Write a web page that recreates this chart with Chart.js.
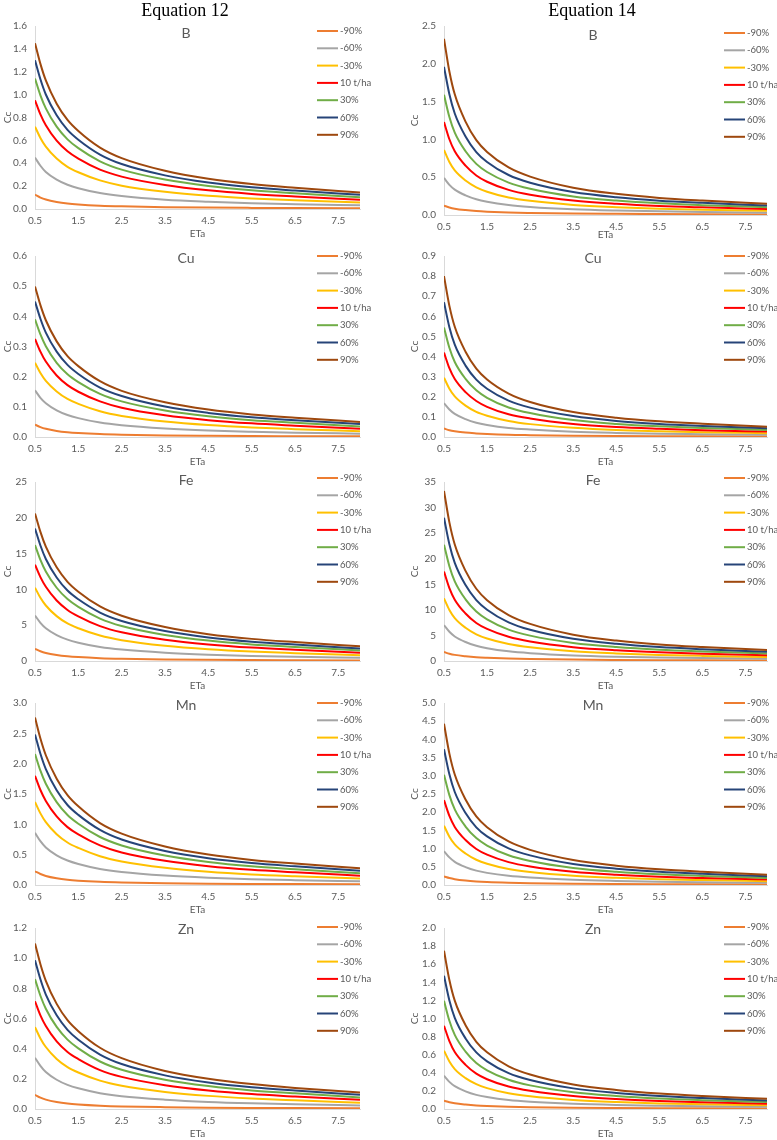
<!DOCTYPE html>
<html>
<head>
<meta charset="utf-8">
<script src="https://cdn.jsdelivr.net/npm/chart.js@4.4.1/dist/chart.umd.min.js"></script>
<style>
    body { margin: 0; width: 777px; height: 1140px; position: relative; background: #fff; overflow: hidden; }
    canvas { position: absolute; background: #fff; }
    .eq { position: absolute; top: 0; width: 200px; text-align: center; z-index: 5;
          font-family: "Liberation Serif", "Times New Roman", serif; font-size: 18px; line-height: 20px; color: #000; }
</style>
</head>
<body>
<div class="eq" style="left:85px">Equation 12</div>
<div class="eq" style="left:492px">Equation 14</div>
<script>
const etaValues = [0.5, 0.625, 0.75, 1, 1.25, 1.5, 2, 2.5, 3.5, 4.5, 5.5, 6.5, 8];
const etaTicks = [0.5, 1.5, 2.5, 3.5, 4.5, 5.5, 6.5, 7.5];
const seriesLabels = ['-90%', '-60%', '-30%', '10 t/ha', '30%', '60%', '90%'];
const seriesColors = ['#ED7D31', '#A5A5A5', '#FFC000', '#FF0000', '#70AD47', '#264478', '#9E480E'];

// Equation 12 - Cc per series (-90% ... 90%)
const ccB12 = [
    [0.125, 0.100, 0.0825, 0.0613, 0.0481, 0.040, 0.0294, 0.0231, 0.016, 0.0121, 0.0098, 0.0081, 0.0063],
    [0.45, 0.378, 0.324, 0.257, 0.212, 0.181, 0.139, 0.113, 0.081, 0.063, 0.050, 0.042, 0.032],
    [0.72, 0.621, 0.545, 0.441, 0.369, 0.321, 0.250, 0.204, 0.150, 0.115, 0.092, 0.076, 0.056],
    [0.95, 0.827, 0.732, 0.597, 0.504, 0.440, 0.344, 0.283, 0.210, 0.163, 0.132, 0.110, 0.081],
    [1.14, 0.994, 0.880, 0.720, 0.609, 0.532, 0.417, 0.344, 0.257, 0.201, 0.163, 0.138, 0.103],
    [1.30, 1.134, 1.001, 0.819, 0.692, 0.606, 0.476, 0.393, 0.294, 0.231, 0.190, 0.161, 0.124],
    [1.45, 1.269, 1.124, 0.921, 0.779, 0.682, 0.537, 0.445, 0.334, 0.264, 0.218, 0.186, 0.145]
];
const ccCu12 = [
    [0.041, 0.0328, 0.0271, 0.0201, 0.0158, 0.0131, 0.0096, 0.0076, 0.0052, 0.004, 0.0032, 0.0027, 0.0021],
    [0.155, 0.130, 0.112, 0.0884, 0.0729, 0.0625, 0.0477, 0.0388, 0.0281, 0.0215, 0.0174, 0.0144, 0.011],
    [0.246, 0.212, 0.186, 0.151, 0.126, 0.110, 0.0854, 0.0699, 0.0512, 0.0394, 0.0315, 0.0261, 0.0192],
    [0.325, 0.283, 0.250, 0.204, 0.172, 0.150, 0.118, 0.0969, 0.0718, 0.0559, 0.0452, 0.0377, 0.0276],
    [0.39, 0.340, 0.301, 0.246, 0.208, 0.182, 0.143, 0.118, 0.0878, 0.0686, 0.0558, 0.0472, 0.0351],
    [0.449, 0.392, 0.346, 0.283, 0.239, 0.209, 0.164, 0.136, 0.101, 0.0799, 0.0656, 0.0557, 0.0427],
    [0.499, 0.437, 0.387, 0.317, 0.268, 0.235, 0.185, 0.153, 0.115, 0.0908, 0.0749, 0.0639, 0.0499]
];
const ccFe12 = [
    [1.70, 1.36, 1.12, 0.833, 0.655, 0.544, 0.40, 0.315, 0.218, 0.165, 0.133, 0.111, 0.085],
    [6.35, 5.33, 4.57, 3.62, 2.98, 2.56, 1.96, 1.59, 1.15, 0.883, 0.711, 0.591, 0.451],
    [10.24, 8.83, 7.75, 6.27, 5.24, 4.57, 3.55, 2.91, 2.13, 1.64, 1.31, 1.09, 0.80],
    [13.46, 11.71, 10.36, 8.45, 7.13, 6.23, 4.87, 4.01, 2.97, 2.32, 1.87, 1.56, 1.14],
    [16.19, 14.12, 12.50, 10.23, 8.65, 7.56, 5.93, 4.89, 3.64, 2.85, 2.32, 1.96, 1.46],
    [18.5, 16.13, 14.25, 11.66, 9.84, 8.62, 6.77, 5.59, 4.18, 3.29, 2.70, 2.29, 1.76],
    [20.6, 18.03, 15.97, 13.08, 11.06, 9.68, 7.62, 6.32, 4.74, 3.75, 3.09, 2.64, 2.06]
];
const ccMn12 = [
    [0.226, 0.181, 0.149, 0.111, 0.087, 0.072, 0.053, 0.042, 0.029, 0.022, 0.018, 0.015, 0.011],
    [0.86, 0.722, 0.619, 0.490, 0.404, 0.347, 0.265, 0.215, 0.156, 0.120, 0.096, 0.080, 0.061],
    [1.37, 1.181, 1.037, 0.838, 0.701, 0.611, 0.475, 0.389, 0.285, 0.219, 0.175, 0.145, 0.107],
    [1.80, 1.566, 1.386, 1.130, 0.954, 0.833, 0.652, 0.536, 0.398, 0.310, 0.250, 0.209, 0.153],
    [2.16, 1.884, 1.668, 1.365, 1.153, 1.009, 0.791, 0.652, 0.486, 0.380, 0.309, 0.261, 0.194],
    [2.48, 2.163, 1.910, 1.562, 1.319, 1.156, 0.908, 0.749, 0.560, 0.441, 0.362, 0.308, 0.236],
    [2.76, 2.415, 2.139, 1.753, 1.482, 1.297, 1.021, 0.847, 0.635, 0.502, 0.414, 0.353, 0.276]
];
const ccZn12 = [
    [0.094, 0.075, 0.062, 0.046, 0.036, 0.030, 0.022, 0.017, 0.012, 0.009, 0.0073, 0.0061, 0.0047],
    [0.34, 0.286, 0.245, 0.194, 0.160, 0.137, 0.105, 0.085, 0.062, 0.047, 0.038, 0.032, 0.024],
    [0.543, 0.468, 0.411, 0.332, 0.278, 0.242, 0.188, 0.154, 0.113, 0.087, 0.070, 0.058, 0.042],
    [0.714, 0.621, 0.550, 0.448, 0.378, 0.331, 0.258, 0.213, 0.158, 0.123, 0.099, 0.083, 0.061],
    [0.861, 0.751, 0.665, 0.544, 0.460, 0.402, 0.315, 0.260, 0.194, 0.152, 0.123, 0.104, 0.077],
    [0.986, 0.860, 0.759, 0.621, 0.525, 0.459, 0.361, 0.298, 0.223, 0.176, 0.144, 0.122, 0.094],
    [1.097, 0.960, 0.850, 0.697, 0.589, 0.516, 0.406, 0.337, 0.252, 0.200, 0.165, 0.140, 0.110]
];

// Equation 14 - Cc per series (-90% ... 90%)
const ccB14 = [
    [0.123, 0.100, 0.084, 0.065, 0.052, 0.044, 0.033, 0.027, 0.019, 0.015, 0.012, 0.010, 0.0079],
    [0.49, 0.399, 0.336, 0.260, 0.208, 0.175, 0.132, 0.107, 0.076, 0.059, 0.048, 0.040, 0.031],
    [0.86, 0.701, 0.589, 0.456, 0.366, 0.308, 0.232, 0.187, 0.133, 0.103, 0.083, 0.071, 0.055],
    [1.23, 1.002, 0.843, 0.652, 0.523, 0.440, 0.332, 0.268, 0.191, 0.148, 0.119, 0.101, 0.079],
    [1.59, 1.296, 1.089, 0.843, 0.676, 0.569, 0.429, 0.347, 0.246, 0.191, 0.154, 0.130, 0.102],
    [1.96, 1.597, 1.343, 1.039, 0.833, 0.702, 0.529, 0.427, 0.304, 0.235, 0.190, 0.161, 0.125],
    [2.33, 1.899, 1.596, 1.235, 0.990, 0.834, 0.629, 0.508, 0.361, 0.280, 0.226, 0.191, 0.149]
];
const ccCu14 = [
    [0.042, 0.034, 0.029, 0.022, 0.018, 0.015, 0.011, 0.0092, 0.0065, 0.005, 0.0041, 0.0034, 0.0027],
    [0.168, 0.137, 0.115, 0.089, 0.071, 0.060, 0.045, 0.037, 0.026, 0.020, 0.016, 0.014, 0.011],
    [0.295, 0.240, 0.202, 0.156, 0.125, 0.106, 0.080, 0.064, 0.046, 0.035, 0.029, 0.024, 0.019],
    [0.42, 0.342, 0.288, 0.223, 0.179, 0.150, 0.113, 0.092, 0.065, 0.050, 0.041, 0.034, 0.027],
    [0.545, 0.444, 0.373, 0.289, 0.232, 0.195, 0.147, 0.119, 0.084, 0.065, 0.053, 0.045, 0.035],
    [0.67, 0.546, 0.459, 0.355, 0.285, 0.240, 0.181, 0.146, 0.104, 0.080, 0.065, 0.055, 0.043],
    [0.80, 0.652, 0.548, 0.424, 0.340, 0.286, 0.216, 0.174, 0.124, 0.096, 0.078, 0.066, 0.051]
];
const ccFe14 = [
    [1.75, 1.43, 1.20, 0.93, 0.74, 0.63, 0.47, 0.38, 0.27, 0.21, 0.17, 0.14, 0.11],
    [7.0, 5.71, 4.80, 3.71, 2.98, 2.51, 1.89, 1.53, 1.09, 0.84, 0.68, 0.57, 0.45],
    [12.25, 9.98, 8.39, 6.49, 5.21, 4.39, 3.31, 2.67, 1.90, 1.47, 1.19, 1.00, 0.78],
    [17.5, 14.26, 11.99, 9.28, 7.44, 6.27, 4.73, 3.82, 2.71, 2.10, 1.70, 1.44, 1.12],
    [22.75, 18.54, 15.58, 12.06, 9.67, 8.14, 6.14, 4.96, 3.53, 2.73, 2.21, 1.87, 1.46],
    [28.0, 22.82, 19.18, 14.84, 11.90, 10.02, 7.56, 6.10, 4.34, 3.36, 2.72, 2.30, 1.79],
    [33.25, 27.10, 22.78, 17.62, 14.13, 11.90, 8.98, 7.25, 5.15, 3.99, 3.23, 2.73, 2.13]
];
const ccMn14 = [
    [0.233, 0.190, 0.160, 0.123, 0.099, 0.083, 0.063, 0.051, 0.036, 0.028, 0.023, 0.019, 0.015],
    [0.93, 0.758, 0.637, 0.493, 0.395, 0.333, 0.251, 0.203, 0.144, 0.112, 0.090, 0.076, 0.060],
    [1.63, 1.328, 1.117, 0.864, 0.693, 0.584, 0.440, 0.355, 0.253, 0.196, 0.158, 0.134, 0.104],
    [2.33, 1.899, 1.596, 1.235, 0.990, 0.834, 0.629, 0.508, 0.361, 0.280, 0.226, 0.191, 0.149],
    [3.03, 2.469, 2.076, 1.606, 1.288, 1.085, 0.818, 0.661, 0.470, 0.364, 0.294, 0.248, 0.194],
    [3.73, 3.040, 2.555, 1.977, 1.585, 1.335, 1.007, 0.813, 0.578, 0.448, 0.362, 0.306, 0.239],
    [4.43, 3.610, 3.035, 2.348, 1.883, 1.586, 1.196, 0.966, 0.687, 0.532, 0.430, 0.363, 0.284]
];
const ccZn14 = [
    [0.092, 0.075, 0.063, 0.049, 0.039, 0.033, 0.025, 0.020, 0.014, 0.011, 0.0089, 0.0075, 0.0059],
    [0.368, 0.300, 0.252, 0.195, 0.156, 0.132, 0.099, 0.080, 0.057, 0.044, 0.036, 0.030, 0.024],
    [0.644, 0.525, 0.441, 0.341, 0.274, 0.231, 0.174, 0.140, 0.100, 0.077, 0.062, 0.053, 0.041],
    [0.92, 0.750, 0.630, 0.488, 0.391, 0.329, 0.248, 0.201, 0.143, 0.110, 0.089, 0.075, 0.059],
    [1.196, 0.975, 0.819, 0.634, 0.508, 0.428, 0.323, 0.261, 0.185, 0.144, 0.116, 0.098, 0.077],
    [1.472, 1.200, 1.008, 0.780, 0.626, 0.527, 0.397, 0.321, 0.228, 0.177, 0.143, 0.121, 0.094],
    [1.748, 1.425, 1.197, 0.926, 0.743, 0.626, 0.472, 0.381, 0.271, 0.210, 0.170, 0.143, 0.112]
];

// column geometry (page px)
const columns = [
    { left: 0, width: 390, axisW: 35, plotRight: 360, legendX: 317, titleX: 186, ccPad: 2 },
    { left: 405, width: 372, axisW: 39, plotRight: 767, legendX: 724, titleX: 593, ccPad: 4 }
];

const panels = [
    { name: 'B',  data: ccB12,  max: 1.6, step: 0.2, dec: 1, col: 0, top: 0,   plotTop: 26,  plotBottom: 209,  legendTop: 31,  xAxisH: 31 },
    { name: 'Cu', data: ccCu12, max: 0.6, step: 0.1, dec: 1, col: 0, top: 242, plotTop: 250, plotBottom: 437,  legendTop: 256, xAxisH: 31 },
    { name: 'Fe', data: ccFe12, max: 25,  step: 5,   dec: 0, col: 0, top: 468, plotTop: 474, plotBottom: 661,  legendTop: 478, xAxisH: 31 },
    { name: 'Mn', data: ccMn12, max: 3.0, step: 0.5, dec: 1, col: 0, top: 689, plotTop: 699, plotBottom: 885,  legendTop: 703, xAxisH: 31 },
    { name: 'Zn', data: ccZn12, max: 1.2, step: 0.2, dec: 1, col: 0, top: 914, plotTop: 927, plotBottom: 1109, legendTop: 927, xAxisH: 31 },
    { name: 'B',  data: ccB14,  max: 2.5, step: 0.5, dec: 1, col: 1, top: 0,   plotTop: 26,  plotBottom: 215,  legendTop: 33,  xAxisH: 26 },
    { name: 'Cu', data: ccCu14, max: 0.9, step: 0.1, dec: 1, col: 1, top: 242, plotTop: 250, plotBottom: 437,  legendTop: 256, xAxisH: 31 },
    { name: 'Fe', data: ccFe14, max: 35,  step: 5,   dec: 0, col: 1, top: 468, plotTop: 474, plotBottom: 661,  legendTop: 478, xAxisH: 31 },
    { name: 'Mn', data: ccMn14, max: 5.0, step: 0.5, dec: 1, col: 1, top: 689, plotTop: 699, plotBottom: 885,  legendTop: 703, xAxisH: 31 },
    { name: 'Zn', data: ccZn14, max: 2.0, step: 0.2, dec: 1, col: 1, top: 914, plotTop: 927, plotBottom: 1109, legendTop: 927, xAxisH: 31 }
];

const textColor = '#595959';
const axisColor = '#D9D9D9';
const fontFamily = 'Lato, "Open Sans", sans-serif';

// Excel-style legend and element title drawn inside the plot
const panelDecor = {
    id: 'panelDecor',
    afterDraw(chart, args, opts) {
        const ctx = chart.ctx;
        ctx.save();
        ctx.fillStyle = textColor;
        ctx.textBaseline = 'middle';
        ctx.textAlign = 'center';
        ctx.font = '14px ' + fontFamily;
        ctx.fillText(opts.title, opts.titleX, opts.titleY);
        ctx.font = '9.5px ' + fontFamily;
        ctx.textAlign = 'left';
        chart.data.datasets.forEach((ds, i) => {
            const y = opts.legendY + i * 17.3;
            ctx.strokeStyle = ds.borderColor;
            ctx.lineWidth = 2;
            ctx.beginPath();
            ctx.moveTo(opts.legendX, y);
            ctx.lineTo(opts.legendX + 21, y);
            ctx.stroke();
            ctx.fillText(ds.label, opts.legendX + 23, y);
        });
        ctx.restore();
    }
};

panels.forEach(p => {
    const col = columns[p.col];
    const height = p.plotBottom + p.xAxisH - p.top;
    const canvas = document.createElement('canvas');
    canvas.width = col.width;
    canvas.height = height;
    canvas.style.left = col.left + 'px';
    canvas.style.top = p.top + 'px';
    document.body.appendChild(canvas);

    const datasets = p.data.map((values, i) => ({
        label: seriesLabels[i],
        data: etaValues.map((x, j) => ({ x: x, y: values[j] })),
        borderColor: seriesColors[i],
        borderWidth: 2,
        pointRadius: 0,
        fill: false,
        cubicInterpolationMode: 'monotone',
        order: seriesLabels.length - i
    }));

    new Chart(canvas.getContext('2d'), {
        type: 'line',
        data: { datasets: datasets },
        options: {
            responsive: false,
            animation: false,
            layout: { padding: { top: p.plotTop - p.top, right: col.width - (col.plotRight - col.left), bottom: 0, left: 0 } },
            plugins: {
                legend: { display: false },
                tooltip: { enabled: false },
                panelDecor: {
                    title: p.name,
                    titleX: col.titleX - col.left,
                    titleY: p.legendTop + 2 - p.top,
                    legendX: col.legendX - col.left,
                    legendY: p.legendTop - p.top
                }
            },
            scales: {
                x: {
                    type: 'linear',
                    min: 0.5,
                    max: 8,
                    afterBuildTicks: scale => { scale.ticks = etaTicks.map(v => ({ value: v })); },
                    afterFit: scale => { scale.height = p.xAxisH; },
                    grid: { display: false, drawTicks: false },
                    border: { display: true, color: axisColor, width: 1 },
                    ticks: {
                        autoSkip: false, maxRotation: 0, padding: 6,
                        color: textColor, font: { family: fontFamily, size: 10 },
                        callback: v => v.toFixed(1)
                    },
                    title: {
                        display: true, text: 'ETa', color: textColor,
                        font: { family: fontFamily, size: 10 }, padding: { top: 0, bottom: 0 }
                    }
                },
                y: {
                    min: 0,
                    max: p.max,
                    afterFit: scale => { scale.width = col.axisW; },
                    grid: { display: false, drawTicks: false },
                    border: { display: true, color: axisColor, width: 1 },
                    ticks: {
                        stepSize: p.step, padding: 8,
                        color: textColor, font: { family: fontFamily, size: 10 },
                        callback: v => v.toFixed(p.dec)
                    },
                    title: {
                        display: true, text: 'Cc', color: textColor,
                        font: { family: fontFamily, size: 10 }, padding: { top: col.ccPad, bottom: 0 }
                    }
                }
            }
        },
        plugins: [panelDecor]
    });
});
</script>
</body>
</html>
